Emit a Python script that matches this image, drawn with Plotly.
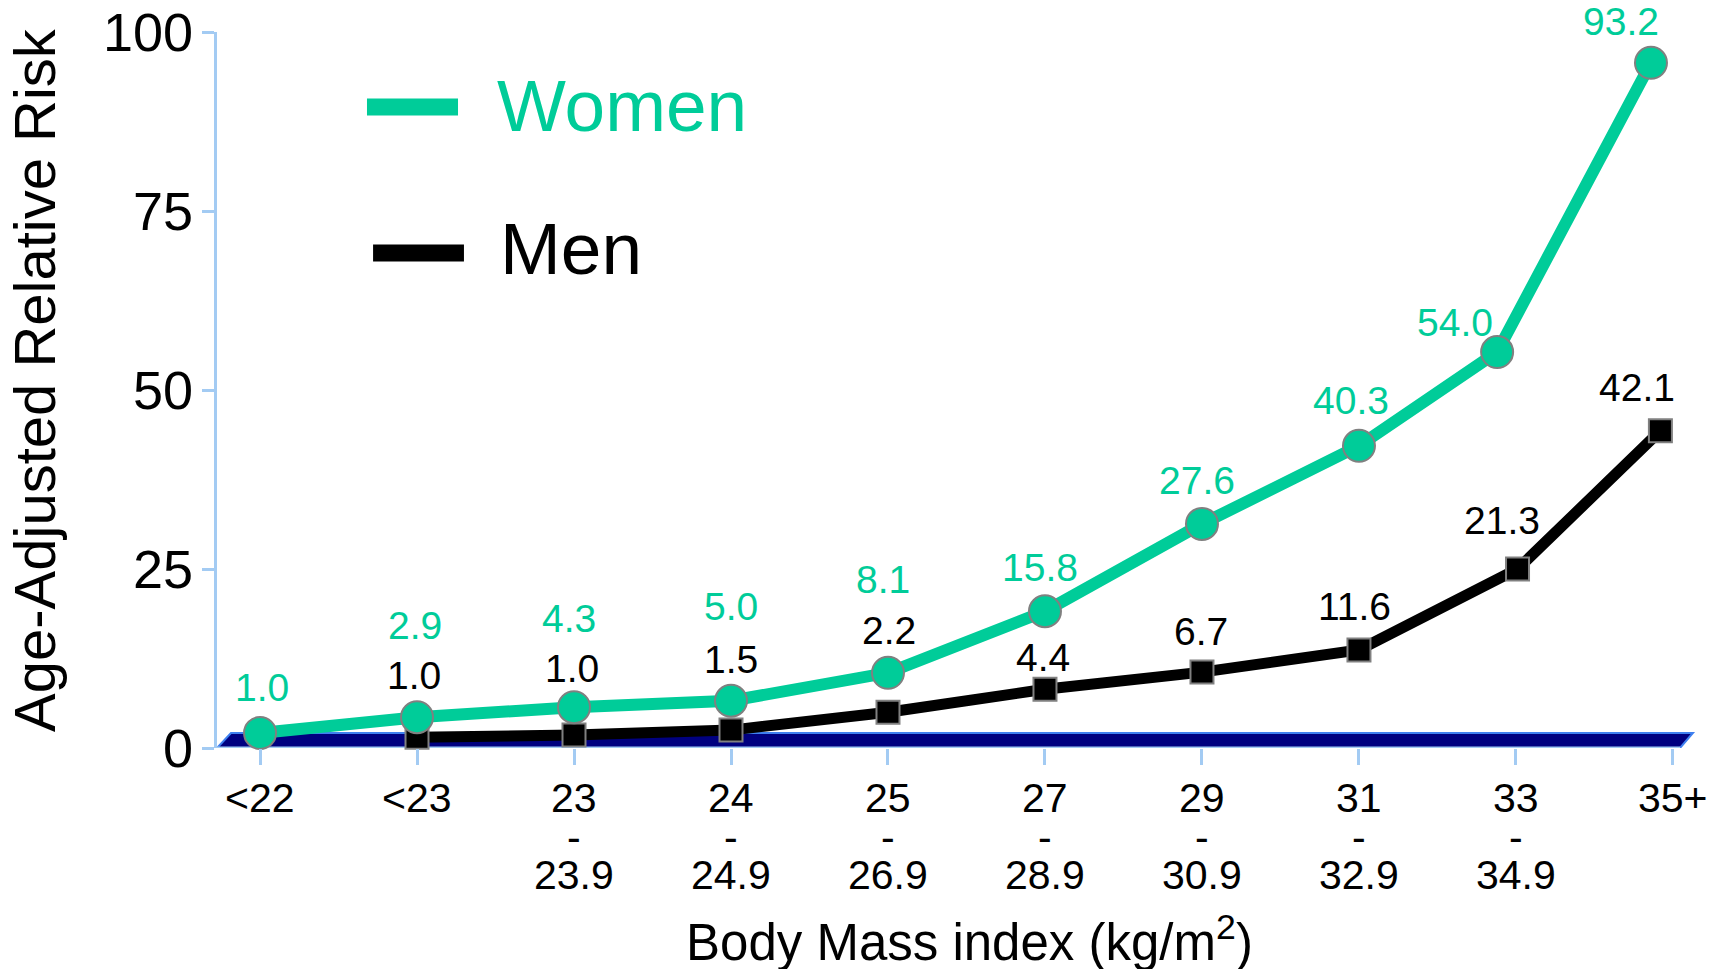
import plotly.graph_objects as go

# categories on the x axis (three-line labels split by "|")
bmi_labels = ["<22", "<23", "23|-|23.9", "24|-|24.9", "25|-|26.9",
              "27|-|28.9", "29|-|30.9", "31|-|32.9", "33|-|34.9", "35+"]
bmi_pos = [0, 1, 2, 3, 4, 5, 6, 7, 8, 9]
risk_ticks = [0, 25, 50, 75, 100]

# women: where the markers sit in the picture, and the printed values
women_x = [0, 1, 2, 3, 4, 5, 6, 7, 7.88, 8.86]
women_y = [2.1, 4.3, 5.7, 6.6, 10.5, 19.1, 31.3, 42.2, 55.3, 95.7]
women_text = ["1.0", "2.9", "4.3", "5.0", "8.1", "15.8", "27.6", "40.3", "54.0", "93.2"]

# men (no value for <22)
men_x = [1, 2, 3, 4, 5, 6, 7, 8.01, 8.92]
men_y = [1.5, 1.8, 2.5, 5.0, 8.2, 10.6, 13.7, 25.0, 44.3]
men_text = ["1.0", "1.0", "1.5", "2.2", "4.4", "6.7", "11.6", "21.3", "42.1"]

# label offsets (px) relative to each marker
women_dx = [2, -2, -5, 0, -5, -5, -5, -8, -42, -30]
women_dy = [45, 92, 89, 94, 93, 44, 43, 45, 30, 41]
men_dx = [-3, -2, 0, 1, -2, -1, -4, -16, -23]
men_dy = [62, 67, 71, 82, 32, 41, 43, 49, 43]

GREEN = '#00CC99'
AXIS_BLUE = '#A3CBF3'
FONT = 'Arial, Liberation Sans, sans-serif'

fig = go.Figure()

fig.add_trace(go.Scatter(
    x=men_x, y=men_y, mode='lines+markers', name='Men',
    line=dict(color='black', width=11),
    marker=dict(symbol='square', size=23, color='black', line=dict(color='#808080', width=2)),
    cliponaxis=False,
))
fig.add_trace(go.Scatter(
    x=women_x, y=women_y, mode='lines+markers', name='Women',
    line=dict(color=GREEN, width=12),
    marker=dict(symbol='circle', size=32, color=GREEN, line=dict(color='#808080', width=2)),
    cliponaxis=False,
))

annotations = []
for x, y, t, dx, dy in zip(women_x, women_y, women_text, women_dx, women_dy):
    annotations.append(dict(x=x, y=y, text=t, showarrow=False, xshift=dx, yshift=dy,
                            font=dict(size=39, color=GREEN, family=FONT)))
for x, y, t, dx, dy in zip(men_x, men_y, men_text, men_dx, men_dy):
    annotations.append(dict(x=x, y=y, text=t, showarrow=False, xshift=dx, yshift=dy,
                            font=dict(size=39, color='black', family=FONT)))

# x tick labels, one annotation per line (tight line spacing like the original)
line_y = [-0.0698, -0.1243, -0.1774]
for pos, lab in zip(bmi_pos, bmi_labels):
    for row, part in enumerate(lab.split('|')):
        annotations.append(dict(x=pos, xref='x', yref='paper', y=line_y[row], text=part,
                                showarrow=False, xanchor='center', yanchor='middle',
                                font=dict(size=41, color='black', family=FONT)))

# y tick labels as annotations so "100" is not dropped at the top edge
for v in risk_ticks:
    annotations.append(dict(x=-0.0148, xref='paper', y=v, yref='y', text=str(v),
                            showarrow=False, xanchor='right', yanchor='middle',
                            font=dict(size=54, color='black', family=FONT)))

# legend drawn by hand + axis titles
annotations += [
    dict(xref='paper', yref='paper', x=0.1872, y=0.898, text='Women', showarrow=False,
         xanchor='left', yanchor='middle', font=dict(size=73, color=GREEN, family=FONT)),
    dict(xref='paper', yref='paper', x=0.1892, y=0.698, text='Men', showarrow=False,
         xanchor='left', yanchor='middle', font=dict(size=73, color='black', family=FONT)),
    dict(xref='paper', yref='paper', x=-0.1226, y=0.514, text='Age-Adjusted Relative Risk',
         textangle=-90, showarrow=False, xanchor='center', yanchor='middle',
         font=dict(size=58, color='black', family=FONT)),
    dict(xref='paper', yref='paper', x=0.507, y=-0.267, text='Body Mass index (kg/m<sup>2</sup>)',
         showarrow=False, xanchor='center', yanchor='middle',
         font=dict(size=51, color='black', family=FONT)),
]

shapes = [
    # 3d floor band
    dict(type='path', xref='x', yref='y', layer='below',
         path='M -0.274 0 L -0.185 2.1 L 9.127 2.1 L 9.045 0 Z',
         fillcolor='#000080', line=dict(color='#3F80F0', width=2)),
    # x axis line
    dict(type='line', xref='x', yref='y', x0=-0.274, x1=9.045, y0=0, y1=0, layer='below',
         line=dict(color=AXIS_BLUE, width=3)),
    dict(type='line', xref='paper', yref='paper', x0=0.101, x1=0.1623, y0=0.8953, y1=0.8953,
         line=dict(color=GREEN, width=17)),
    dict(type='line', xref='paper', yref='paper', x0=0.1051, x1=0.1663, y0=0.6913, y1=0.6913,
         line=dict(color='black', width=17)),
]

# the page body adds an 8px offset, so margins are trimmed by that much
fig.update_layout(
    width=1722, height=969,
    margin=dict(l=209, r=28, t=24, b=229, autoexpand=False),
    plot_bgcolor='white', paper_bgcolor='white',
    showlegend=False,
    font=dict(family=FONT, color='black'),
    annotations=annotations,
    shapes=shapes,
    xaxis=dict(
        range=[-0.274, 9.185], tickvals=bmi_pos, showticklabels=False,
        ticks='outside', ticklen=16, tickwidth=3, tickcolor=AXIS_BLUE,
        showline=False, showgrid=False, zeroline=False, automargin=False,
    ),
    yaxis=dict(
        range=[0, 100], tickvals=risk_ticks, showticklabels=False,
        ticks='outside', ticklen=12, tickwidth=3, tickcolor=AXIS_BLUE,
        showline=True, linecolor=AXIS_BLUE, linewidth=3,
        showgrid=False, zeroline=False, automargin=False,
    ),
)

fig.write_html("out.html")
